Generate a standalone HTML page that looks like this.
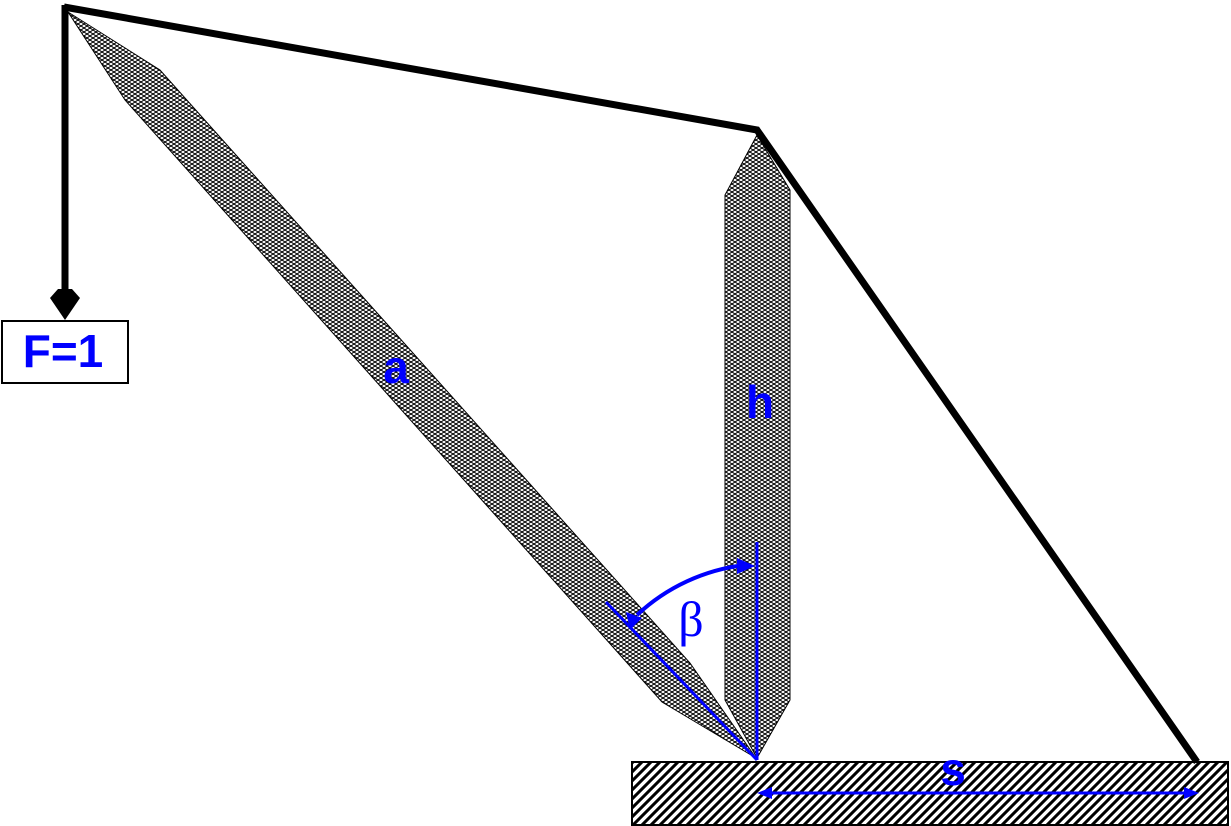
<!DOCTYPE html>
<html><head><meta charset="utf-8"><style>html,body{margin:0;padding:0;background:#fff}svg{display:block}</style></head>
<body>
<svg width="1231" height="826" viewBox="0 0 1231 826" xmlns="http://www.w3.org/2000/svg">
<defs>
<pattern id="x" width="6" height="4" patternUnits="userSpaceOnUse">
<rect width="6" height="4" fill="#fff"/>
<path d="M0 0L6 4M6 0L0 4" stroke="#000" stroke-width="1"/>
</pattern>
<pattern id="d" width="9" height="9" patternUnits="userSpaceOnUse">
<rect width="9" height="9" fill="#fff"/>
<path d="M-2 11L11 -2M-2 2L2 -2M7 11L11 7" stroke="#000" stroke-width="3"/>
</pattern>
</defs>
<rect x="632" y="762" width="596" height="63" fill="url(#d)" stroke="#000" stroke-width="2"/>
<polygon points="68,12 160,70 690,663 756,758 662,702 125,100" fill="url(#x)" stroke="#000" stroke-width="1"/>
<polygon points="757,135 790,190 790,700 757,758 725,700 725,195" fill="url(#x)" stroke="#000" stroke-width="1"/>
<polyline points="64,7 757,130 1197,762" fill="none" stroke="#000" stroke-width="7"/>
<line x1="65" y1="5" x2="65" y2="300" stroke="#000" stroke-width="7"/>
<polygon points="58,289 72,289 80,298 65,320 50,298" fill="#000"/>
<rect x="2" y="321" width="126" height="62" fill="#fff" stroke="#000" stroke-width="2"/>
<text x="63" y="367" text-anchor="middle" font-family="Liberation Sans, sans-serif" font-weight="bold" font-size="46" fill="#0000ff">F=1</text>
<line x1="757" y1="760" x2="757" y2="542" stroke="#0000ff" stroke-width="3"/>
<line x1="757" y1="760" x2="606" y2="602" stroke="#0000ff" stroke-width="3"/>
<path d="M745,565 A190,190 0 0 0 637,615" fill="none" stroke="#0000ff" stroke-width="4"/>
<polygon points="755,566 737,558 737,574" fill="#0000ff"/>
<polygon points="630,630 626,612 642,618" fill="#0000ff"/>
<line x1="765" y1="793" x2="1190" y2="793" stroke="#0000ff" stroke-width="3"/>
<polygon points="757,793 772,787 772,799" fill="#0000ff"/>
<polygon points="1199,793 1184,787 1184,799" fill="#0000ff"/>
<text x="691" y="636" text-anchor="middle" font-family="Liberation Serif, serif" font-size="50" fill="#0000ff">β</text>
<text x="396" y="383" text-anchor="middle" font-family="Liberation Sans, sans-serif" font-weight="bold" font-size="46" fill="#0000ff">a</text>
<text x="760" y="418" text-anchor="middle" font-family="Liberation Sans, sans-serif" font-weight="bold" font-size="46" fill="#0000ff">h</text>
<text x="953" y="785" text-anchor="middle" font-family="Liberation Sans, sans-serif" font-weight="bold" font-size="46" fill="#0000ff">s</text>
</svg>
</body></html>
